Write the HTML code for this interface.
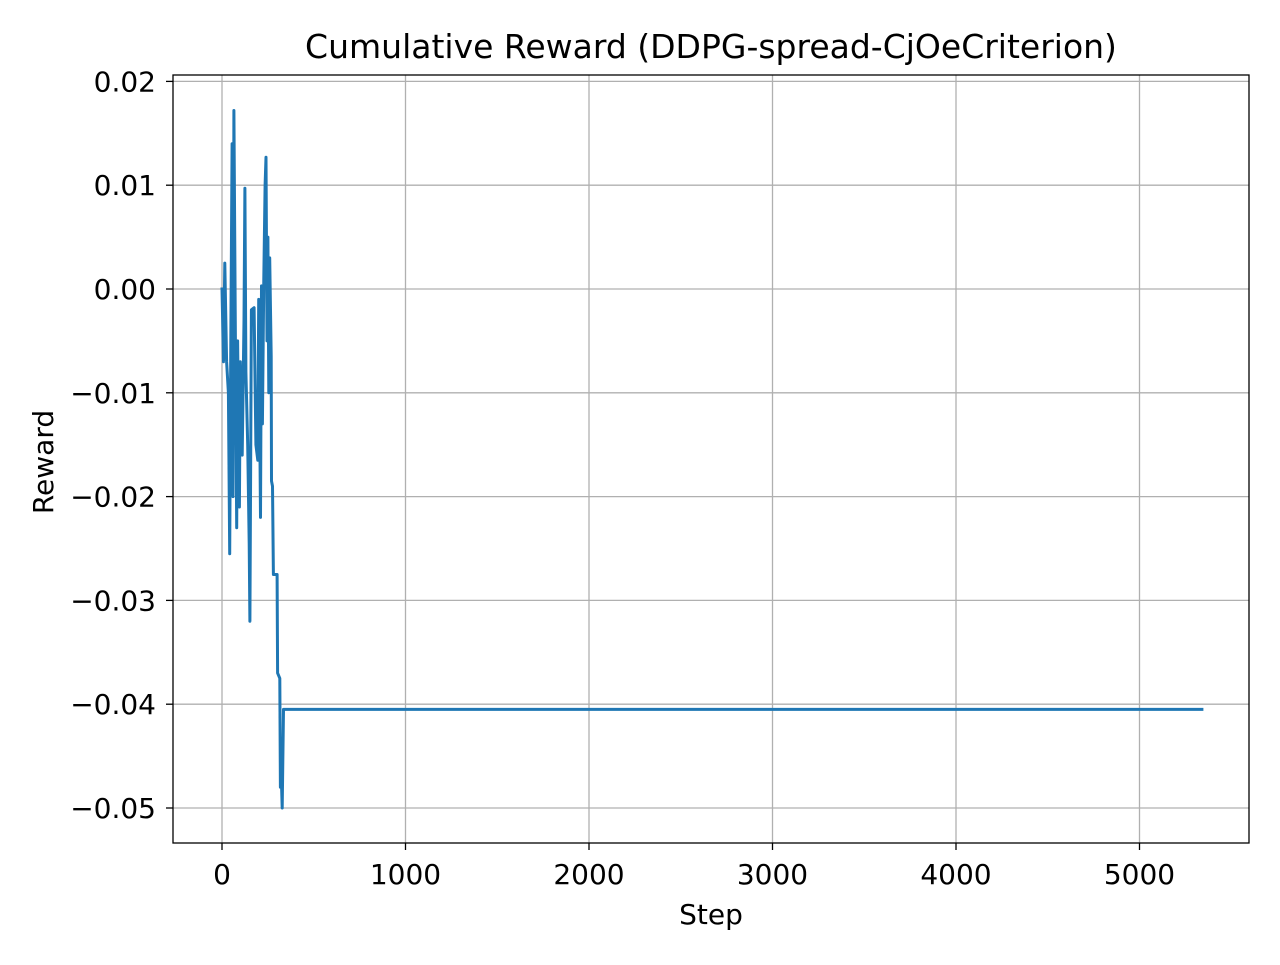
<!DOCTYPE html>
<html><head><meta charset="utf-8"><style>
html,body{margin:0;padding:0;background:#fff;}
svg text{font-family:"DejaVu Sans","Liberation Sans",sans-serif;fill:#000;}
</style></head><body>
<svg id="chart" width="1280" height="960" viewBox="0 0 1280 960" xmlns="http://www.w3.org/2000/svg">
<rect width="1280" height="960" fill="#fff"/>
<g id="grid"></g>
<g id="plot"></g>
<rect x="173" y="75" width="1076" height="768" fill="none" stroke="#000" stroke-width="1.3"/>
<g id="ticks"></g>
<text x="711" y="58" font-size="33" text-anchor="middle">Cumulative Reward (DDPG-spread-CjOeCriterion)</text>
<text x="711" y="924" font-size="28" text-anchor="middle">Step</text>
<text x="53" y="462" font-size="28" text-anchor="middle" transform="rotate(-90 53 462)">Reward</text>
</svg>
<script>
const steps = [0,8,15,25,35,42,48,55,60,65,72,80,85,95,100,110,120,125,130,140,148,152,160,175,185,195,200,210,215,220,228,235,240,245,250,255,260,268,270,275,280,300,303,315,318,325,328,335,5340];
const rewards = [0,-0.007,0.0025,-0.007,-0.01,-0.0255,-0.005,0.014,-0.02,0.0172,-0.002,-0.023,-0.005,-0.021,-0.007,-0.016,-0.003,0.0097,-0.008,-0.015,-0.0245,-0.032,-0.002,-0.0018,-0.015,-0.0165,-0.001,-0.022,0.0003,-0.013,0.001,0.01,0.0127,-0.005,0.005,-0.01,0.003,-0.0065,-0.0185,-0.019,-0.0275,-0.0275,-0.037,-0.0375,-0.048,-0.048,-0.05,-0.0405,-0.0405];
const xTicks = [0,1000,2000,3000,4000,5000];
const xTickLabels = ["0","1000","2000","3000","4000","5000"];
const yTicks = [0.02,0.01,0,-0.01,-0.02,-0.03,-0.04,-0.05];
const yTickLabels = ["0.02","0.01","0.00","\u22120.01","\u22120.02","\u22120.03","\u22120.04","\u22120.05"];

const xs = v => 222 + v * 0.1835;
const ys = v => 289 - v * 10380;
const NS = "http://www.w3.org/2000/svg";
const grid = document.getElementById('grid');
const ticks = document.getElementById('ticks');
function mk(tag, attrs, parent){const e=document.createElementNS(NS,tag);for(const k in attrs)e.setAttribute(k,attrs[k]);parent.appendChild(e);return e;}

xTicks.forEach((t,i)=>{
  const x = xs(t);
  const g = mk('line',{x1:x,x2:x,y1:75,y2:843,stroke:'#b0b0b0','stroke-width':1.3},grid);
  
  
  const tk = mk('line',{x1:x,x2:x,y1:843,y2:850,stroke:'#000','stroke-width':1.3},ticks);
  
  
  const tx = mk('text',{x:x,y:884,'font-size':28,'text-anchor':'middle'},ticks);
  tx.textContent = xTickLabels[i];
  
  
});
yTicks.forEach((t,i)=>{
  const y = ys(t);
  const g = mk('line',{x1:173,x2:1249,y1:y,y2:y,stroke:'#b0b0b0','stroke-width':1.3},grid);
  
  
  const tk = mk('line',{x1:166,x2:173,y1:y,y2:y,stroke:'#000','stroke-width':1.3},ticks);
  
  
  const tx = mk('text',{x:156,y:y+10,'font-size':28,'text-anchor':'end'},ticks);
  tx.textContent = yTickLabels[i];
  
  
});
const pts = steps.map((s,i)=>xs(s).toFixed(1)+','+ys(rewards[i]).toFixed(1)).join(' ');
const line = mk('polyline',{points:pts,fill:'none',stroke:'#1f77b4','stroke-width':3,'stroke-linejoin':'round','stroke-linecap':'square'},document.getElementById('plot'));


</script>
</body></html>
